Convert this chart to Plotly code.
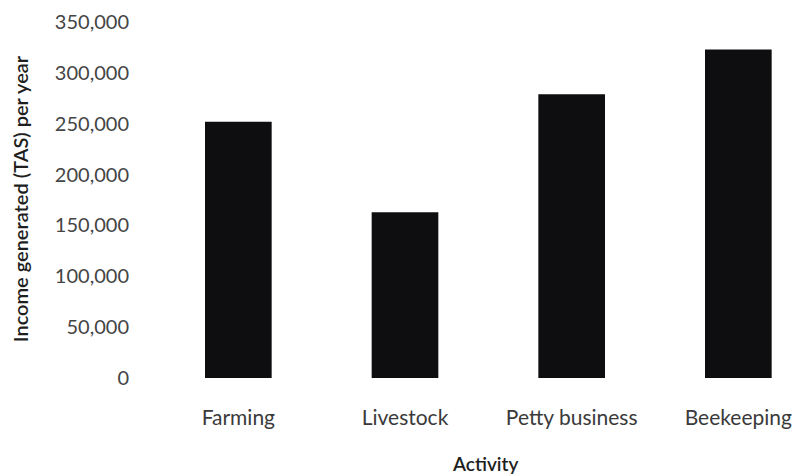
import plotly.graph_objects as go

# Annual income by activity (TAS)
activities = ["Farming", "Livestock", "Petty business", "Beekeeping"]
income = [252000, 163000, 279000, 323000]
y_ticks = [0, 50000, 100000, 150000, 200000, 250000, 300000, 350000]
y_tick_labels = ["0", "50,000", "100,000", "150,000", "200,000", "250,000", "300,000", "350,000"]

fig = go.Figure(
    go.Bar(
        x=activities,
        y=income,
        width=0.4,
        marker=dict(color="#0e0e10", line=dict(width=0)),
    )
)

font_family = "Lato, Carlito, 'Open Sans', sans-serif"

fig.update_layout(
    width=795,
    height=476,
    margin=dict(l=150, r=0, t=22, b=98),
    paper_bgcolor="white",
    plot_bgcolor="white",
    showlegend=False,
    font=dict(family=font_family, color="#333333"),
    xaxis=dict(
        range=[-0.53, 3.34],
        showgrid=False,
        showline=False,
        zeroline=False,
        ticks="",
        tickfont=dict(size=21, color="#3a3a3a"),
        ticklabelstandoff=25,
    ),
    yaxis=dict(
        range=[0, 350000],
        tickvals=y_ticks,
        ticktext=y_tick_labels,
        showgrid=False,
        showline=False,
        zeroline=False,
        ticks="",
        tickfont=dict(size=20, color="#454545"),
        ticklabelstandoff=20,
    ),
    annotations=[
        dict(
            text="Income generated (TAS) per year",
            xref="paper", yref="paper",
            x=-0.2016, y=0.505,
            xanchor="center", yanchor="middle",
            textangle=-90,
            showarrow=False,
            font=dict(size=20, color="#1e1e1e", family=font_family, weight=600),
        ),
        dict(
            text="Activity",
            xref="paper", yref="paper",
            x=0.519, y=-0.239,
            xanchor="center", yanchor="middle",
            showarrow=False,
            font=dict(size=19, color="#1e1e1e", family=font_family, weight=600),
        ),
    ],
)

fig.write_html("out.html")
